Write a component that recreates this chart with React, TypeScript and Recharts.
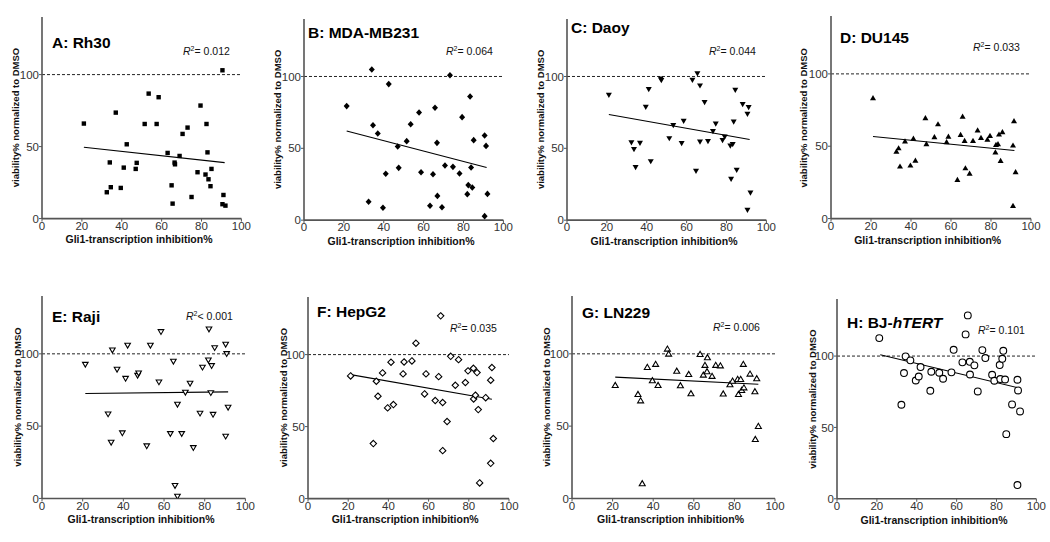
import React from 'react';
import { ScatterChart, Scatter, XAxis, YAxis, ReferenceLine } from 'recharts';

const FONT = '"Liberation Sans", Arial, Helvetica, sans-serif';

// ---- data ----
const rh30X = [21, 32.5, 34, 34.5, 37, 39.5, 41, 42.5, 47, 47.5, 51.5, 53.5, 57.5, 58.5, 63, 65, 65.5, 66.5, 66.7, 69, 70.5, 73, 75, 78, 79.5, 82, 82.5, 83, 83.5, 84.5, 85, 90.5, 91, 90.5, 92];
const rh30Y = [66, 18.3, 39, 21.8, 73.6, 21.3, 35.4, 51.6, 34.5, 38.7, 65.7, 86.8, 65.7, 84.3, 45.6, 23.1, 10.4, 38.9, 37.7, 43.5, 58.8, 63.2, 15, 32.2, 78.5, 30.6, 65.7, 46, 27.3, 22.5, 34.5, 103, 16.4, 10, 9];

const mdaX = [21.4, 32.4, 34, 34.6, 37, 39.6, 41, 42.5, 47, 47.5, 51.5, 53.5, 57.7, 58.7, 63.2, 64.7, 65.7, 66.7, 66.9, 69.2, 70.7, 73.2, 74.7, 78, 79.3, 81.9, 82.4, 83.3, 83.8, 84.4, 85.1, 90.6, 91.3, 90.6, 92];
const mdaY = [79.4, 12.8, 104.9, 66.1, 60.3, 8.6, 32.3, 94.7, 51.3, 36.4, 55, 66.8, 74.9, 33.4, 10, 32, 78.2, 53.8, 16.9, 9, 38, 100.9, 37.1, 32.5, 71.7, 18.1, 24.4, 86.1, 36.7, 22.7, 55.7, 58.9, 51.7, 2.8, 18.3];

const daoyX = [21, 32.3, 33.6, 34.4, 36.6, 39.5, 41, 42, 47, 47.3, 51.3, 53.3, 57.5, 58.5, 62.9, 64.7, 65.4, 66.7, 66.7, 69, 70.7, 73.2, 74.6, 78, 79.1, 81.9, 82.3, 83.1, 83.6, 84.4, 85.1, 88.1, 90.5, 91.1, 90.5, 92];
const daoyY = [87, 54, 49.2, 36.7, 53.6, 78.7, 91, 40.8, 98.4, 97.2, 56.8, 65.9, 53.4, 68.9, 97.4, 34.1, 102, 93.5, 54.5, 81.9, 54.8, 61.7, 67, 55.5, 58, 51.7, 28.5, 52.7, 68.4, 90.5, 34.8, 80.5, 73.8, 78.4, 7, 19];

const du145X = [21, 32.7, 33.8, 34.5, 37, 39.7, 41.2, 42.2, 47.2, 47.7, 51.7, 53.5, 57.8, 58.7, 63.2, 64.8, 65.8, 66.8, 67.2, 69.3, 71, 73.3, 75, 78.2, 79.5, 82.2, 82.5, 83.5, 84, 84.8, 85.7, 91, 91.5, 91, 92.3];
const du145Y = [83.4, 46.5, 48.8, 36.2, 53.5, 36.9, 55.5, 40.3, 69.6, 51.6, 56.5, 65.4, 53, 56.9, 27, 58.1, 70.7, 53.9, 35, 31.3, 53.9, 61.1, 56, 54.8, 57.4, 45.9, 51.2, 51.6, 58.3, 40.1, 59.9, 50.7, 67.5, 9, 32.3];

const rajiX = [21.3, 32.5, 34, 34.6, 36.9, 39.5, 41.1, 42.1, 47, 47.5, 51.5, 53.3, 57.5, 58.5, 63.1, 64.6, 65.4, 66.6, 66.6, 68.7, 70.5, 72.8, 74.4, 77.7, 78.9, 81.8, 82.1, 83, 83.4, 84.1, 84.9, 90.3, 90.8, 90.3, 91.5];
const rajiY = [92.6, 58.3, 38.7, 102.5, 89.2, 45.2, 82.9, 105.8, 85, 86.6, 36.2, 105.8, 80.4, 115.2, 44.7, 94.7, 8.8, 65, 1.4, 44.7, 73.3, 79.5, 35, 58.8, 90.6, 95.6, 117, 73, 91.7, 58, 104.1, 106.5, 100, 42.9, 62.9];

const hepg2X = [21.2, 32.5, 34, 34.8, 37.1, 39.6, 41.3, 42.5, 47.3, 47.8, 51.7, 53.7, 58, 58.7, 63.3, 65, 66, 67, 67, 69.2, 71, 73.3, 74.9, 78.3, 79.6, 82.3, 82.4, 83.3, 84.1, 84.7, 85.4, 88.4, 90.9, 91.5, 90.9, 92.2];
const hepg2Y = [85.2, 38.2, 81.5, 71.1, 87.3, 63, 94.7, 65.3, 86.6, 94.9, 95.6, 107.9, 72.7, 86.6, 68.1, 84.7, 126.9, 66.7, 33.3, 53.5, 98.8, 78.7, 96.5, 80.6, 88.7, 90.5, 69.2, 71.8, 87.5, 61.8, 10.9, 70.1, 82.2, 91, 24.5, 41.7];

const ln229X = [21.3, 32.5, 33.8, 34.6, 37.1, 39.6, 41.2, 42.4, 47, 47.6, 51.6, 53.4, 57.5, 58.6, 63.1, 64.7, 65.5, 66.5, 66.7, 69, 70.8, 73.1, 74.5, 77.8, 79.1, 81.6, 82, 83.1, 83.6, 84.4, 84.7, 87.7, 90.1, 91, 90.3, 91.8];
const ln229Y = [78.3, 72.1, 67.7, 10.4, 90.8, 81.6, 92.9, 78.3, 103.5, 100, 88.2, 78.1, 85.9, 72.6, 99.8, 85.5, 92.2, 87.8, 97.5, 84.6, 92.2, 91.9, 72.4, 78.8, 81.3, 82.5, 72.1, 82.5, 74.9, 92.9, 76.7, 86.2, 74, 83, 41, 50];

const bjX = [21.2, 32.3, 33.6, 34.4, 36.8, 39.5, 41, 41.9, 46.8, 47.3, 51.3, 53.2, 57.4, 58.5, 62.9, 64.5, 65.6, 66.6, 66.7, 68.9, 70.6, 72.9, 74.4, 77.8, 78.9, 81.6, 81.9, 82.9, 83.4, 84.3, 84.9, 87.8, 90.5, 90.8, 90.5, 91.8];
const bjY = [112.6, 65.9, 88.1, 99.8, 97, 82.9, 85.7, 92.3, 75.7, 89, 88.3, 84.1, 88.6, 104.4, 95.6, 115.2, 128.5, 96, 87.1, 93.5, 75.2, 104.2, 98.6, 86.9, 82.7, 93.7, 83.9, 98.1, 103.7, 83.6, 45.3, 66.1, 83.4, 75.9, 9.6, 61.2];

// regression line end points: [xStart, xEnd], [yStart, yEnd]
const fitX = [[21, 91.6], [21.4, 91.6], [21, 91.6], [21, 91.7], [21.3, 91.5], [21.2, 91.5], [21.3, 91.8], [21.7, 91.5]];
const fitY = [[49.5, 38.9], [62, 36.7], [73.5, 56.1], [56.7, 47], [72.6, 73.7], [86.1, 69], [83.9, 79], [100.9, 77.6]];

const panelTitles = ['A: Rh30', 'B: MDA-MB231', 'C: Daoy', 'D: DU145', 'E: Raji', 'F: HepG2', 'G: LN229', 'H: BJ-'];
const r2Labels = ['= 0.012', '= 0.064', '= 0.044', '= 0.033', '< 0.001', '= 0.035', '= 0.006', '= 0.101'];
const xTicks = [0, 20, 40, 60, 80, 100];
const yTicks = [0, 50, 100];
const xTitle = 'Gli1-transcription inhibition%';
const yTitle = 'viability% normalized to DMSO';

type Kind = 'square' | 'diamond' | 'triDown' | 'triUp' | 'triDownOpen' | 'diamondOpen' | 'triUpOpen' | 'circleOpen';

const makeShape = (kind: Kind) => (props: any) => {
  const { cx, cy } = props;
  if (cx == null || cy == null) return <g />;
  const open = { fill: '#fff', stroke: '#000', strokeWidth: 1.1 };
  switch (kind) {
    case 'square':
      return <rect x={cx - 2.2} y={cy - 2.2} width={4.4} height={4.4} fill="#000" />;
    case 'diamond':
      return <polygon points={`${cx},${cy - 3.3} ${cx + 3},${cy} ${cx},${cy + 3.3} ${cx - 3},${cy}`} fill="#000" />;
    case 'triDown':
      return <polygon points={`${cx - 3},${cy - 2.4} ${cx + 3},${cy - 2.4} ${cx},${cy + 2.8}`} fill="#000" />;
    case 'triUp':
      return <polygon points={`${cx - 3},${cy + 2.4} ${cx + 3},${cy + 2.4} ${cx},${cy - 2.8}`} fill="#000" />;
    case 'triDownOpen':
      return <polygon points={`${cx - 2.8},${cy - 2.2} ${cx + 2.8},${cy - 2.2} ${cx},${cy + 2.6}`} {...open} />;
    case 'triUpOpen':
      return <polygon points={`${cx - 3},${cy + 2.3} ${cx + 3},${cy + 2.3} ${cx},${cy - 2.8}`} {...open} />;
    case 'diamondOpen':
      return <polygon points={`${cx},${cy - 3.2} ${cx + 3.2},${cy} ${cx},${cy + 3.2} ${cx - 3.2},${cy}`} {...open} />;
    case 'circleOpen':
    default:
      return <circle cx={cx} cy={cy} r={3.4} {...open} />;
  }
};

const zip = (xs: number[], ys: number[]) => xs.map((x, i) => ({ x, y: ys[i] }));

const seriesX = [rh30X, mdaX, daoyX, du145X, rajiX, hepg2X, ln229X, bjX];
const seriesY = [rh30Y, mdaY, daoyY, du145Y, rajiY, hepg2Y, ln229Y, bjY];
const kinds: Kind[] = ['square', 'diamond', 'triDown', 'triUp', 'triDownOpen', 'diamondOpen', 'triUpOpen', 'circleOpen'];

// layout (pixel geometry of each panel: y axis x, x=100 position, y=0 position, y=100 position)
const layout = [
  { ax: 42.3, ax100: 241.7, y0: 218.3, y100: 74.3, tx: 52, ty: 48, rx: 183, ry: 55, lx: 15 },
  { ax: 304.3, ax100: 503.7, y0: 220, y100: 76.3, tx: 308, ty: 38, rx: 446, ry: 55, lx: 277 },
  { ax: 567.3, ax100: 766.7, y0: 220, y100: 76.3, tx: 571, ty: 33, rx: 709, ry: 55, lx: 540 },
  { ax: 830.7, ax100: 1030.7, y0: 219, y100: 74.3, tx: 840, ty: 43, rx: 973, ry: 51, lx: 803 },
  { ax: 42.3, ax100: 245.7, y0: 498.3, y100: 353.7, tx: 52, ty: 322, rx: 186, ry: 320, lx: 17 },
  { ax: 307.7, ax100: 508.7, y0: 498.3, y100: 354.3, tx: 317, ty: 317, rx: 450, ry: 332, lx: 283 },
  { ax: 572, ax100: 775, y0: 498.3, y100: 353.7, tx: 582, ty: 318, rx: 713, ry: 331, lx: 546 },
  { ax: 837.3, ax100: 1036.7, y0: 499, y100: 356.3, tx: 847, ty: 328, rx: 978, ry: 334, lx: 812 },
];

const Y_AXIS_W = 40;
const M_TOP = 5;
const M_RIGHT = 10;
const X_AXIS_H = 20;

function Panel({ i }: { i: number }) {
  const g = layout[i];
  const plotW = g.ax100 - g.ax;
  const plotH = (g.y0 - g.y100) * 1.4;
  const yTop = g.y0 - plotH;
  const w = plotW + Y_AXIS_W + M_RIGHT;
  const h = plotH + M_TOP + X_AXIS_H;
  const data = zip(seriesX[i], seriesY[i]);
  const axisStyle = { stroke: '#555', strokeWidth: 1.6 };
  const tickStyle = { fontSize: 11.5, fill: '#333', fontFamily: FONT };
  return (
    <div style={{ position: 'absolute', left: g.ax - Y_AXIS_W, top: yTop - M_TOP }}>
      <ScatterChart width={w} height={h} margin={{ top: M_TOP, right: M_RIGHT, bottom: 0, left: 0 }}>
        <XAxis
          type="number"
          dataKey="x"
          domain={[0, 100]}
          ticks={xTicks}
          height={X_AXIS_H}
          axisLine={axisStyle}
          tickLine={{ stroke: '#555', strokeWidth: 1 }}
          tickSize={3}
          tickMargin={0}
          tick={tickStyle}
          allowDataOverflow
        />
        <YAxis
          type="number"
          dataKey="y"
          domain={[0, 140]}
          ticks={yTicks}
          width={Y_AXIS_W}
          axisLine={axisStyle}
          tickLine={{ stroke: '#555', strokeWidth: 1 }}
          tickSize={3}
          tickMargin={0}
          tick={tickStyle}
          allowDataOverflow
        />
        <ReferenceLine y={100} stroke="#222" strokeWidth={1} strokeDasharray="3 2" />
        <ReferenceLine
          segment={[{ x: fitX[i][0], y: fitY[i][0] }, { x: fitX[i][1], y: fitY[i][1] }]}
          stroke="#000"
          strokeWidth={1.1}
        />
        <Scatter data={data} isAnimationActive={false} shape={makeShape(kinds[i])} />
      </ScatterChart>
    </div>
  );
}

function Labels() {
  return (
    <svg width={1050} height={542} style={{ position: 'absolute', left: 0, top: 0, pointerEvents: 'none' }}>
      {layout.map((g, i) => {
        const plotH = (g.y0 - g.y100) * 1.4;
        const yMid = g.y0 - plotH / 2;
        const xMid = (g.ax + g.ax100) / 2 - 3;
        return (
          <g key={i} fontFamily={FONT}>
            <text x={g.tx} y={g.ty} fontSize={15.5} fontWeight="bold" fill="#000">
              {panelTitles[i]}
              {i === 7 ? <tspan fontStyle="italic">hTERT</tspan> : null}
            </text>
            <text x={g.rx} y={g.ry} fontSize={10.5} fill="#111">
              <tspan fontStyle="italic">R</tspan>
              <tspan fontSize={7} dy={-4}>2</tspan>
              <tspan dy={4}>{r2Labels[i]}</tspan>
            </text>
            <text x={xMid} y={g.y0 + 25} fontSize={10.5} fontWeight="bold" textAnchor="middle" fill="#111">
              {xTitle}
            </text>
            <text
              x={0}
              y={0}
              transform={`translate(${g.lx + 3.5}, ${yMid}) rotate(-90)`}
              fontSize={9.5}
              fontWeight="bold"
              textAnchor="middle"
              fill="#111"
            >
              {yTitle}
            </text>
          </g>
        );
      })}
    </svg>
  );
}

export default function App() {
  return (
    <div style={{ position: 'absolute', left: 0, top: 0, width: 1050, height: 542, background: '#fff', overflow: 'hidden' }}>
      {layout.map((_, i) => (
        <Panel key={i} i={i} />
      ))}
      <Labels />
    </div>
  );
}
